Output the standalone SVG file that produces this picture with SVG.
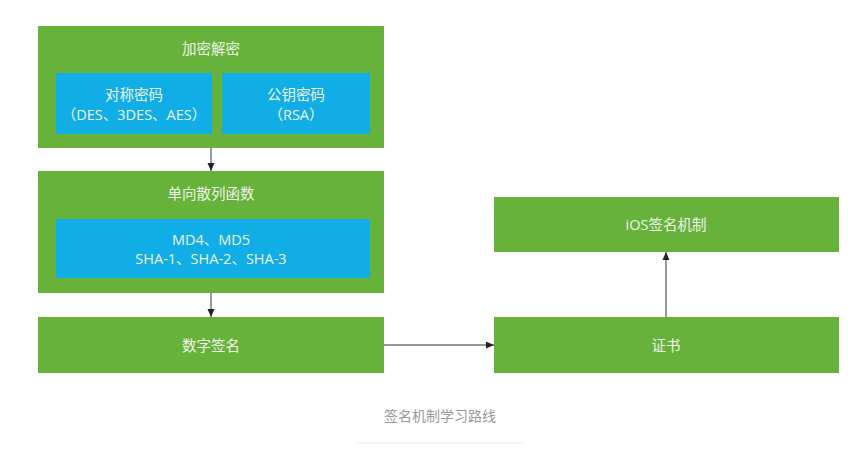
<svg xmlns="http://www.w3.org/2000/svg" width="857" height="462" viewBox="0 0 857 462">
<style>
.g{fill:#67b23a}
.b{fill:#10ade6}
.t{font-family:"Open Sans","Noto Sans CJK SC",sans-serif;font-size:14.5px;fill:#eef5ea;text-anchor:middle;dominant-baseline:central}
.c{stroke:#333;stroke-width:1;fill:none;marker-end:url(#ah)}
</style>
<defs>
<marker id="ah" viewBox="0 0 8 8" refX="8" refY="4" markerWidth="8" markerHeight="8" markerUnits="userSpaceOnUse" orient="auto">
<path d="M0,0.5 L8,4 L0,7.5 z" fill="#222"/>
</marker>
</defs>
<rect width="857" height="462" fill="#fff"/>
<g id="crypto">
<rect class="g" x="38" y="26" width="346" height="122"/>
<text class="t" x="211" y="48">加密解密</text>
</g>
<g id="symmetric">
<rect class="b" x="56" y="73" width="156" height="61"/>
<text class="t" x="134" y="94">对称密码</text>
<text class="t" x="134" y="114">（DES、3DES、AES）</text>
</g>
<g id="publickey">
<rect class="b" x="222" y="73" width="148" height="61"/>
<text class="t" x="296" y="94">公钥密码</text>
<text class="t" x="296" y="114">（RSA）</text>
</g>
<g id="hash">
<rect class="g" x="38" y="171" width="346" height="122"/>
<text class="t" x="211" y="193">单向散列函数</text>
</g>
<g id="hashalgs">
<rect class="b" x="56" y="219" width="314" height="59"/>
<text class="t" x="211" y="239">MD4、MD5</text>
<text class="t" x="211" y="258">SHA-1、SHA-2、SHA-3</text>
</g>
<g id="signature">
<rect class="g" x="38" y="317" width="346" height="56"/>
<text class="t" x="211" y="345">数字签名</text>
</g>
<g id="cert">
<rect class="g" x="494" y="317" width="345" height="56"/>
<text class="t" x="666" y="345">证书</text>
</g>
<g id="ios">
<rect class="g" x="494" y="197" width="345" height="55"/>
<text class="t" x="666" y="224">iOS签名机制</text>
</g>
<g id="connectors">
<line class="c" x1="211" y1="148" x2="211" y2="171"/>
<line class="c" x1="211" y1="293" x2="211" y2="317"/>
<line class="c" x1="384" y1="345" x2="494" y2="345"/>
<line class="c" x1="666" y1="317" x2="666" y2="252"/>
</g>
<g id="caption">
<text x="440" y="416" font-family="Liberation Sans,'Noto Sans CJK SC',sans-serif" font-size="14" fill="#999" text-anchor="middle" dominant-baseline="central">签名机制学习路线</text>
<line x1="356" y1="443" x2="524" y2="443" stroke="#eee" stroke-width="1"/>
</g>
</svg>
